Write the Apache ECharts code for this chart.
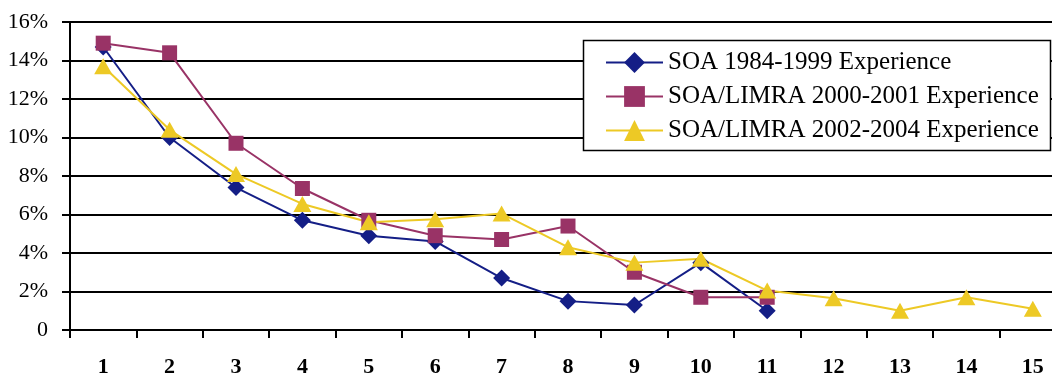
<!DOCTYPE html>
<html>
<head>
<meta charset="utf-8">
<script src="https://cdn.jsdelivr.net/npm/echarts@6/dist/echarts.min.js"></script>
<style>
html,body{margin:0;padding:0;background:#fff;overflow:hidden;width:1052px;height:378px;}
#chart{width:1066px;height:378px;}
</style>
</head>
<body>
<div id="chart"></div>
<script>
const categories = ['1','2','3','4','5','6','7','8','9','10','11','12','13','14','15'];
const seriesNames = ['SOA 1984-1999 Experience','SOA/LIMRA 2000-2001 Experience','SOA/LIMRA 2002-2004 Experience'];
const soa8499 = [14.7, 10.0, 7.4, 5.7, 4.9, 4.6, 2.7, 1.5, 1.3, 3.5, 1.0, null, null, null, null];
const limra0001 = [14.9, 14.4, 9.7, 7.35, 5.7, 4.9, 4.7, 5.4, 3.0, 1.7, 1.7, null, null, null, null];
const limra0204 = [13.7, 10.4, 8.1, 6.55, 5.6, 5.75, 6.05, 4.3, 3.5, 3.7, 2.05, 1.65, 1.0, 1.7, 1.1];
const yTicks = [0, 2, 4, 6, 8, 10, 12, 14, 16];

const serif = "'Liberation Serif','Times New Roman',serif";
const colors = ['#141E86', '#993366', '#EDC925'];

const chart = echarts.init(document.getElementById('chart'), null, {renderer: 'canvas'});
chart.setOption({
  animation: false,
  backgroundColor: '#fff',
  grid: {left: 70, top: 22, right: 0, height: 310},
  xAxis: {
    type: 'category',
    data: categories,
    boundaryGap: true,
    axisLine: {lineStyle: {color: '#000', width: 2}},
    axisTick: {show: true, length: 8, lineStyle: {color: '#000', width: 2}},
    axisLabel: {fontFamily: serif, fontSize: 22, fontWeight: 'bold', color: '#000', margin: 26}
  },
  yAxis: {
    type: 'value',
    min: yTicks[0], max: yTicks[yTicks.length - 1], interval: 2,
    axisLine: {show: true, lineStyle: {color: '#000', width: 2}},
    axisTick: {show: true, length: 8, lineStyle: {color: '#000', width: 2}},
    splitLine: {show: true, lineStyle: {color: '#000', width: 2}},
    axisLabel: {fontFamily: serif, fontSize: 22, color: '#000', margin: 22,
      formatter: v => v === 0 ? '0' : v + '%'}
  },
  legend: {
    orient: 'vertical',
    left: 605, top: 50,
    padding: 0,
    itemWidth: 57, itemHeight: 26, itemGap: 9,
    textStyle: {fontFamily: serif, fontSize: 25, color: '#000', lineHeight: 25},
    data: seriesNames
  },
  graphic: [{
    type: 'rect', z: 3,
    shape: {x: 583.5, y: 40.5, width: 467, height: 110},
    style: {fill: '#fff', stroke: '#000', lineWidth: 1.5}
  }],
  series: [
    {name: seriesNames[0], type: 'line', data: soa8499, symbol: 'diamond', symbolSize: [17, 17],
     lineStyle: {color: colors[0], width: 2}, itemStyle: {color: colors[0]}, z: 2},
    {name: seriesNames[1], type: 'line', data: limra0001, symbol: 'rect', symbolSize: 15,
     lineStyle: {color: colors[1], width: 2}, itemStyle: {color: colors[1]}, z: 2},
    {name: seriesNames[2], type: 'line', data: limra0204, symbol: 'triangle', symbolSize: [18, 16],
     lineStyle: {color: colors[2], width: 2}, itemStyle: {color: colors[2]}, z: 2}
  ]
});
</script>
</body>
</html>
